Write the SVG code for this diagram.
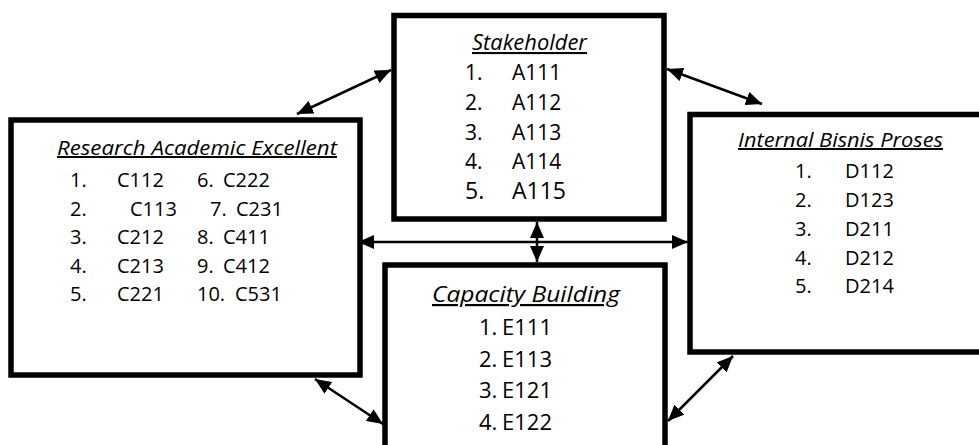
<svg xmlns="http://www.w3.org/2000/svg" width="979" height="445" viewBox="0 0 979 445">
<defs>
<marker id="ah" markerUnits="userSpaceOnUse" markerWidth="17" markerHeight="14" refX="16" refY="7" orient="auto-start-reverse" viewBox="0 0 17 14">
<path d="M0,0 L16,7 L0,14 z" fill="#000"/>
</marker>
<style>
.box{fill:#fff;stroke:#000;stroke-width:5.5}
.conn{stroke:#000;stroke-width:2.5;fill:none;marker-start:url(#ah);marker-end:url(#ah)}
text{font-family:"Open Sans","Noto Sans","Liberation Sans",sans-serif;fill:#000}
.t{font-style:italic;text-decoration:underline}
</style>
</defs>
<rect width="979" height="445" fill="#fff"/>
<g id="stakeholder">
<rect class="box" x="394" y="15.5" width="270" height="203.5"/>
<text class="t" x="472" y="50" font-size="21" textLength="115" lengthAdjust="spacingAndGlyphs">Stakeholder</text>
<g font-size="21">
<text y="80"><tspan x="465">1.</tspan><tspan x="512">A111</tspan></text>
<text y="110"><tspan x="465">2.</tspan><tspan x="512">A112</tspan></text>
<text y="140"><tspan x="465">3.</tspan><tspan x="512">A113</tspan></text>
<text y="169"><tspan x="465">4.</tspan><tspan x="512">A114</tspan></text>
</g>
<text y="199" font-size="23"><tspan x="465">5.</tspan><tspan x="512">A115</tspan></text>
</g>
<g id="research">
<rect class="box" x="11" y="120" width="349" height="255"/>
<text class="t" x="57" y="155" font-size="20" textLength="280" lengthAdjust="spacingAndGlyphs">Research Academic Excellent</text>
<g font-size="20">
<text y="187"><tspan x="70">1.</tspan><tspan x="117">C112</tspan><tspan x="197">6.</tspan><tspan x="223">C222</tspan></text>
<text y="216"><tspan x="70">2.</tspan><tspan x="130">C113</tspan><tspan x="210">7.</tspan><tspan x="236">C231</tspan></text>
<text y="244"><tspan x="70">3.</tspan><tspan x="117">C212</tspan><tspan x="197">8.</tspan><tspan x="223">C411</tspan></text>
<text y="273"><tspan x="70">4.</tspan><tspan x="117">C213</tspan><tspan x="197">9.</tspan><tspan x="223">C412</tspan></text>
<text y="301"><tspan x="70">5.</tspan><tspan x="117">C221</tspan><tspan x="197">10.</tspan><tspan x="235">C531</tspan></text>
</g>
</g>
<g id="internal">
<rect class="box" x="690" y="114.5" width="300" height="237.5"/>
<text class="t" x="738" y="147" font-size="20" textLength="205" lengthAdjust="spacingAndGlyphs">Internal Bisnis Proses</text>
<g font-size="20">
<text y="178"><tspan x="795">1.</tspan><tspan x="845">D112</tspan></text>
<text y="207"><tspan x="795">2.</tspan><tspan x="845">D123</tspan></text>
<text y="236"><tspan x="795">3.</tspan><tspan x="845">D211</tspan></text>
<text y="265"><tspan x="795">4.</tspan><tspan x="845">D212</tspan></text>
<text y="293"><tspan x="795">5.</tspan><tspan x="845">D214</tspan></text>
</g>
</g>
<g id="capacity">
<rect class="box" x="385" y="265" width="280" height="200"/>
<text class="t" x="432" y="302" font-size="22" textLength="188" lengthAdjust="spacingAndGlyphs">Capacity Building</text>
<g font-size="22">
<text y="335"><tspan x="479">1.</tspan><tspan x="502">E111</tspan></text>
<text y="367"><tspan x="479">2.</tspan><tspan x="502">E113</tspan></text>
<text y="398"><tspan x="479">3.</tspan><tspan x="502">E121</tspan></text>
<text y="430"><tspan x="479">4.</tspan><tspan x="502">E122</tspan></text>
</g>
</g>
<g id="connectors">
<line class="conn" x1="297" y1="114" x2="391" y2="70"/>
<line class="conn" x1="667" y1="69" x2="762" y2="104"/>
<line class="conn" x1="537" y1="222" x2="537" y2="262"/>
<line class="conn" x1="358" y1="242" x2="688" y2="242"/>
<line class="conn" x1="315" y1="379" x2="383" y2="424"/>
<line class="conn" x1="733" y1="356" x2="668" y2="421"/>
</g>
</svg>
